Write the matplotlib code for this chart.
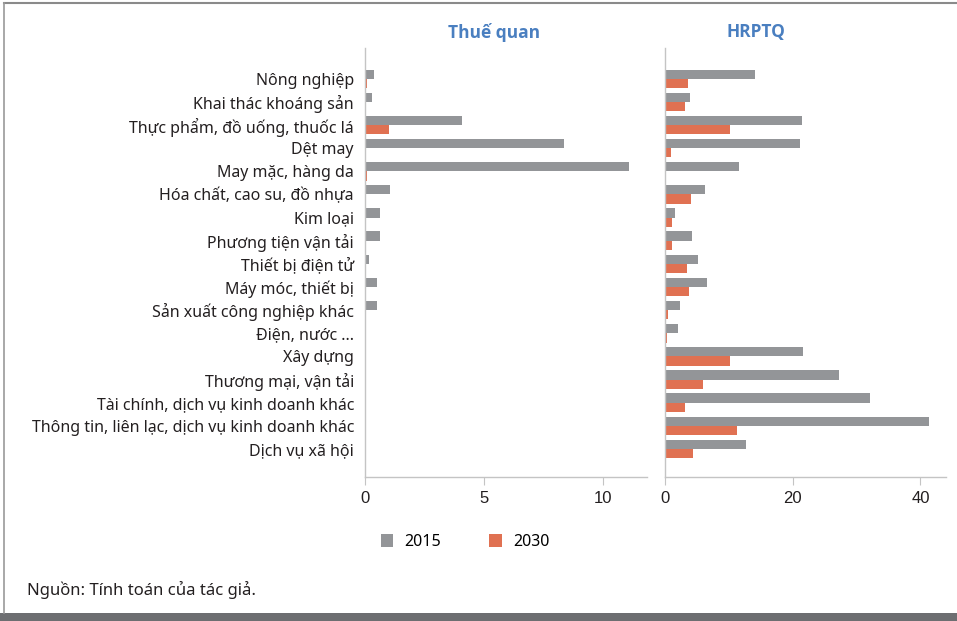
"""
Thuế quan vs HRPTQ by sector, 2015 and 2030 (two-panel horizontal bars).
"""

import matplotlib
matplotlib.use("Agg")
import matplotlib.pyplot as plt
import numpy as np
from matplotlib.patches import Rectangle

sectors = [
    "Nông nghiệp",
    "Khai thác khoáng sản",
    "Thực phẩm, đồ uống, thuốc lá",
    "Dệt may",
    "May mặc, hàng da",
    "Hóa chất, cao su, đồ nhựa",
    "Kim loại",
    "Phương tiện vận tải",
    "Thiết bị điện tử",
    "Máy móc, thiết bị",
    "Sản xuất công nghiệp khác",
    "Điện, nước ...",
    "Xây dựng",
    "Thương mại, vận tải",
    "Tài chính, dịch vụ kinh doanh khác",
    "Thông tin, liên lạc, dịch vụ kinh doanh khác",
    "Dịch vụ xã hội",
]

tariff_2015 = [0.38, 0.30, 4.09, 8.37, 11.09, 1.04, 0.62, 0.62, 0.17, 0.50, 0.52, 0, 0, 0, 0, 0, 0]
tariff_2030 = [0.10, 0.02, 1.00, 0.05, 0.07, 0.03, 0.02, 0.05, 0.02, 0.03, 0.03, 0, 0, 0, 0, 0, 0]

ntm_2015 = [14.1, 3.9, 21.5, 21.2, 11.6, 6.3, 1.6, 4.2, 5.1, 6.6, 2.4, 2.0, 21.6, 27.3, 32.1, 41.4, 12.7]
ntm_2030 = [3.6, 3.2, 10.2, 0.9, 0.2, 4.1, 1.1, 1.1, 3.4, 3.8, 0.5, 0.3, 10.2, 6.0, 3.1, 11.2, 4.4]

years = ["2015", "2030"]
GREY = "#939598"
ORANGE = "#e07152"
TITLE_BLUE = "#4a7fc0"
SPINE = "#c4c4c4"
LABEL_FONT = ["Noto Sans", "DejaVu Sans"]
TITLE_FONT = ["Open Sans", "DejaVu Sans"]
TICK_FONT = ["Liberation Sans", "DejaVu Sans"]

W, H = 957, 621
fig = plt.figure(figsize=(W / 100, H / 100), dpi=100)


def px_axes(x0, x1, y0, y1):
    # axes placed by pixel edges (top-left origin)
    return fig.add_axes([x0 / W, 1 - y1 / H, (x1 - x0) / W, (y1 - y0) / H])


ax1 = px_axes(365, 647, 48, 477)
ax2 = px_axes(665, 946, 48, 477)

y = np.arange(len(sectors))
bh = 0.4
for ax, v15, v30, xmax, ticks in [
    (ax1, tariff_2015, tariff_2030, 11.85, [0, 5, 10]),
    (ax2, ntm_2015, ntm_2030, 44, [0, 20, 40]),
]:
    ax.barh(y - bh / 2, v15, height=bh, color=GREY, label=years[0])
    ax.barh(y + bh / 2, v30, height=bh, color=ORANGE, label=years[1])
    ax.set_xlim(0, xmax)
    ax.set_ylim(len(sectors) - 1 + 1.21, -1.33)
    ax.set_xticks(ticks)
    ax.set_xticklabels([str(t) for t in ticks], fontsize=12, family=TICK_FONT, color="#231f20")
    ax.set_yticks(y)
    for s in ["top", "right"]:
        ax.spines[s].set_visible(False)
    for s in ["left", "bottom"]:
        ax.spines[s].set_color(SPINE)
        ax.spines[s].set_linewidth(1.0)
    ax.tick_params(axis="x", length=6, color=SPINE, pad=4)
    ax.tick_params(axis="y", length=0)

ax1.set_yticklabels(sectors, fontsize=11.5, family=LABEL_FONT, color="#231f20")
ax1.tick_params(axis="y", pad=8)
ax2.set_yticklabels([])

fig.text(494 / W, 1 - 32 / H, "Thuế quan", ha="center", va="center",
         fontsize=12.5, fontweight="bold", color=TITLE_BLUE, family=TITLE_FONT)
fig.text(756 / W, 1 - 32 / H, "HRPTQ", ha="center", va="center",
         fontsize=12.5, fontweight="bold", color=TITLE_BLUE, family=TITLE_FONT)

handles, labels = ax1.get_legend_handles_labels()
fig.legend(handles, labels, loc="center", bbox_to_anchor=(465 / W, 1 - 542 / H),
           ncol=2, frameon=False, handlelength=0.8, handleheight=0.8,
           columnspacing=3.0, handletextpad=0.7, prop={"family": LABEL_FONT, "size": 11.5})

fig.text(27 / W, 1 - 590 / H, "Nguồn: Tính toán của tác giả.", ha="left", va="center",
         fontsize=12, color="#231f20", family=LABEL_FONT)

# page frame: top and left rules, dark band at the bottom
fig.add_artist(plt.Line2D([4 / W, 1], [1 - 3 / H, 1 - 3 / H], transform=fig.transFigure,
                          color="#8a8a8a", linewidth=1.5))
fig.add_artist(plt.Line2D([4 / W, 4 / W], [1 - 3 / H, 1 - 613 / H], transform=fig.transFigure,
                          color="#9a9a9a", linewidth=1.2))
fig.add_artist(Rectangle((0, 0), 1, 8 / H, transform=fig.transFigure,
                         color="#6d6e71", linewidth=0))

fig.savefig("out.png", dpi=100)
